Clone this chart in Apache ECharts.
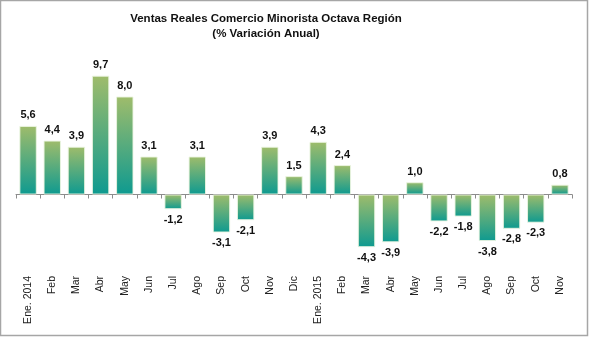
<!DOCTYPE html>
<html>
<head>
<meta charset="utf-8">
<script src="https://cdn.jsdelivr.net/npm/echarts@6/dist/echarts.min.js"></script>
<style>
html,body{margin:0;padding:0;background:#fff;}
#chart{width:589px;height:337px;}
</style>
</head>
<body>
<div id="chart"></div>
<script>
var categories = ['Ene. 2014','Feb','Mar','Abr','May','Jun','Jul','Ago','Sep','Oct','Nov','Dic','Ene. 2015','Feb','Mar','Abr','May','Jun','Jul','Ago','Sep','Oct','Nov'];
var values = [5.6, 4.4, 3.9, 9.7, 8.0, 3.1, -1.2, 3.1, -3.1, -2.1, 3.9, 1.5, 4.3, 2.4, -4.3, -3.9, 1.0, -2.2, -1.8, -3.8, -2.8, -2.3, 0.8];
var titleText = 'Ventas Reales Comercio Minorista Octava Región\n(% Variación Anual)';

var chart = echarts.init(document.getElementById('chart'), null, {renderer: 'canvas'});
var barColor = new echarts.graphic.LinearGradient(0, 0, 0, 1, [
  {offset: 0, color: '#9fbc6b'},
  {offset: 1, color: '#0e9a90'}
]);
var data = values.map(function (v) {
  return {
    value: v,
    label: {position: v < 0 ? 'bottom' : 'top'}
  };
});
chart.setOption({
  animation: false,
  backgroundColor: '#fff',
  title: {
    text: titleText,
    left: 261,
    top: 6,
    textAlign: 'center',
    textStyle: {fontFamily: 'Liberation Sans', fontSize: 11.5, fontWeight: 'bold', color: '#111', lineHeight: 15}
  },
  graphic: [{
    type: 'rect',
    shape: {x: 0.5, y: 0.5, width: 587, height: 335},
    style: {fill: 'none', stroke: '#a6a6a6', lineWidth: 1.5},
    silent: true
  }],
  grid: {left: 16, right: 17, top: 72, bottom: 69},
  xAxis: [{
    type: 'category',
    data: categories,
    axisLine: {onZero: true, lineStyle: {color: '#8c8c8c', width: 1}},
    axisTick: {show: true, interval: 0, length: 4, lineStyle: {color: '#8c8c8c'}},
    axisLabel: {show: false}
  }, {
    type: 'category',
    data: categories,
    position: 'bottom',
    axisLine: {show: false, onZero: false},
    axisTick: {show: false},
    axisLabel: {
      rotate: 90,
      margin: 8,
      interval: 0,
      fontFamily: 'Liberation Sans',
      fontSize: 10.5,
      color: '#222'
    }
  }],
  yAxis: {
    type: 'value',
    min: -6,
    max: 10,
    show: false,
    splitLine: {show: false}
  },
  series: [{
    type: 'bar',
    data: data,
    barWidth: '72%',
    itemStyle: {color: barColor, borderColor: 'rgba(235,245,225,0.9)', borderWidth: 1},
    label: {
      show: true,
      distance: 5,
      formatter: function (p) { return p.value.toFixed(1).replace('.', ','); },
      fontFamily: 'Liberation Sans',
      fontSize: 11,
      fontWeight: 'bold',
      color: '#111'
    }
  }]
});
</script>
</body>
</html>
